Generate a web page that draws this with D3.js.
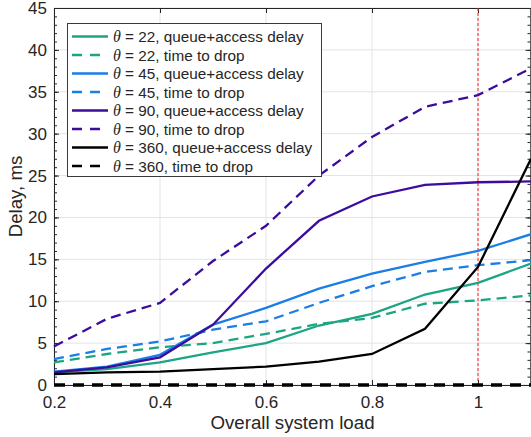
<!DOCTYPE html>
<html>
<head>
<meta charset="utf-8">
<script src="https://cdn.jsdelivr.net/npm/d3@7"></script>
<style>
body { margin: 0; background: #fff; }
text { font-family: "Liberation Sans", Arial, Helvetica, sans-serif; }
</style>
</head>
<body>
<div id="chart"></div>
<script>
// x values: overall system load
var loads = [0.2, 0.3, 0.4, 0.5, 0.6, 0.7, 0.8, 0.9, 1.0, 1.1];

// delays in ms
var q22  = [1.5, 1.9, 2.7, 3.9, 5.0, 7.1, 8.5, 10.8, 12.2, 14.5];
var d22  = [2.7, 3.7, 4.5, 5.0, 6.1, 7.3, 8.0, 9.7, 10.1, 10.7];
var q45  = [1.6, 2.2, 3.6, 7.2, 9.2, 11.5, 13.3, 14.7, 16.0, 18.0];
var d45  = [3.1, 4.3, 5.2, 6.6, 7.6, 9.8, 11.8, 13.5, 14.3, 14.9];
var q90  = [1.5, 2.1, 3.3, 7.2, 13.9, 19.6, 22.5, 23.9, 24.2, 24.3];
var d90  = [4.6, 7.9, 9.8, 14.8, 19.0, 25.0, 29.6, 33.2, 34.6, 37.8];
var q360 = [1.3, 1.5, 1.6, 1.9, 2.2, 2.8, 3.7, 6.7, 14.1, 27.0];
var d360 = [0, 0, 0, 0, 0, 0, 0, 0, 0, 0];

var kinds = ["queue+access delay", "time to drop"];
var xTicks = [0.2, 0.4, 0.6, 0.8, 1];
var yTicks = d3.range(0, 46, 5);

var colors = { "22": "#1ba583", "45": "#1a7ee6", "90": "#3c0c9c", "360": "#000000" };

var series = [
	{ theta: "22", kind: 0, values: q22 },
	{ theta: "22", kind: 1, values: d22 },
	{ theta: "45", kind: 0, values: q45 },
	{ theta: "45", kind: 1, values: d45 },
	{ theta: "90", kind: 0, values: q90 },
	{ theta: "90", kind: 1, values: d90 },
	{ theta: "360", kind: 0, values: q360 },
	{ theta: "360", kind: 1, values: d360 }
];

var width = 531, height = 437;
var margin = { left: 54, right: 0, top: 8, bottom: 52 };
var W = width - margin.left - margin.right,
	H = height - margin.top - margin.bottom;

var svg = d3.select("#chart").append("svg")
	.attr("width", width)
	.attr("height", height);
var g = svg.append("g")
	.attr("transform", "translate(" + margin.left + "," + margin.top + ")");

var x = d3.scaleLinear().domain([0.2, 1.1]).range([0, W]);
var y = d3.scaleLinear().domain([0, 45]).range([H, 0]);

// grid
g.append("g").selectAll("line").data(xTicks).enter().append("line")
	.attr("x1", function(d){ return x(d); }).attr("x2", function(d){ return x(d); })
	.attr("y1", 0).attr("y2", H)
	.attr("stroke", "#e3e3e3").attr("stroke-width", 1);
g.append("g").selectAll("line").data(yTicks).enter().append("line")
	.attr("y1", function(d){ return y(d); }).attr("y2", function(d){ return y(d); })
	.attr("x1", 0).attr("x2", W)
	.attr("stroke", "#e3e3e3").attr("stroke-width", 1);

// axes
var axisColor = "#262626";
function styleAxis(sel){
	sel.select(".domain").attr("stroke", axisColor);
	sel.selectAll(".tick line").attr("stroke", axisColor);
	sel.selectAll(".tick text").attr("fill", "#262626")
		.style("font-size", "17px")
		.style("font-family", "'Liberation Sans', Arial, sans-serif");
}

var gx = g.append("g").attr("transform", "translate(0," + H + ")")
	.call(d3.axisBottom(x).tickValues(xTicks).tickSize(-5).tickSizeOuter(0).tickPadding(11)
		.tickFormat(function(d){ return d === 1 ? "1" : d3.format(".1f")(d); }));
styleAxis(gx);

g.append("g")
	.call(d3.axisTop(x).tickValues(xTicks).tickSize(-5).tickSizeOuter(0).tickFormat(""))
	.call(styleAxis);

var gy = g.append("g")
	.call(d3.axisLeft(y).tickValues(yTicks).tickSize(-5).tickSizeOuter(0).tickPadding(7));
styleAxis(gy);
g.append("g")
	.call(d3.axisLeft(y).tickValues(d3.range(0, 46, 1)).tickSize(-3).tickSizeOuter(0).tickFormat(""))
	.call(styleAxis);

g.append("g").attr("transform", "translate(" + (W - 0.5) + ",0)")
	.call(d3.axisRight(y).tickValues(yTicks).tickSize(-5).tickSizeOuter(0).tickFormat(""))
	.call(styleAxis);
g.append("g").attr("transform", "translate(" + (W - 0.5) + ",0)")
	.call(d3.axisRight(y).tickValues(d3.range(0, 46, 1)).tickSize(-3).tickSizeOuter(0).tickFormat(""))
	.call(styleAxis);

// red capacity marker at load = 1
g.append("line")
	.attr("x1", x(1)).attr("x2", x(1))
	.attr("y1", 0).attr("y2", H)
	.attr("stroke", "#ff2020").attr("stroke-width", 1)
	.attr("stroke-dasharray", "3,2");

// lines
var line = d3.line()
	.x(function(d, i){ return x(loads[i]); })
	.y(function(d){ return y(d); });

g.append("g").selectAll("path").data(series).enter().append("path")
	.attr("d", function(d){ return line(d.values); })
	.attr("fill", "none")
	.attr("stroke", function(d){ return colors[d.theta]; })
	.attr("stroke-width", function(d){ return d.theta === "360" && d.kind === 1 ? 3.5 : 2.3; })
	.attr("stroke-dasharray", function(d){
		if (d.kind !== 1) return null;
		return d.theta === "360" ? "11,8" : "10,6";
	});

// axis titles
svg.append("text")
	.attr("x", margin.left + x(0.65)).attr("y", 429)
	.attr("text-anchor", "middle")
	.attr("fill", "#262626")
	.style("font-size", "18.7px")
	.text("Overall system load");

svg.append("text")
	.attr("transform", "translate(21.5," + (margin.top + y(22.5)) + ") rotate(-90)")
	.attr("text-anchor", "middle")
	.attr("fill", "#262626")
	.style("font-size", "18.7px")
	.text("Delay, ms");

// legend
var lg = svg.append("g").attr("transform", "translate(67.5,23.5)");
lg.append("rect")
	.attr("width", 254).attr("height", 153)
	.attr("fill", "#fff").attr("stroke", "#3a3a3a").attr("stroke-width", 1);

var rows = lg.selectAll("g.row").data(series).enter().append("g")
	.attr("class", "row")
	.attr("transform", function(d, i){ return "translate(0," + (13 + i * 18.5) + ")"; });
rows.append("line")
	.attr("x1", 4.5).attr("x2", 40.5).attr("y1", 0).attr("y2", 0)
	.attr("stroke", function(d){ return colors[d.theta]; })
	.attr("stroke-width", function(d){ return d.theta === "360" ? 2.6 : 2.3; })
	.attr("stroke-dasharray", function(d){ return d.kind === 1 ? "10,8" : null; });
var t = rows.append("text")
	.attr("x", 45.5).attr("y", 5.5)
	.attr("fill", "#262626")
	.style("font-size", "15.3px");
t.append("tspan")
	.style("font-family", "'Liberation Serif', 'Times New Roman', serif")
	.style("font-style", "italic")
	.style("font-size", "16px")
	.text("θ");
t.append("tspan")
	.text(function(d){ return " = " + d.theta + ", " + kinds[d.kind]; });
</script>
</body>
</html>
